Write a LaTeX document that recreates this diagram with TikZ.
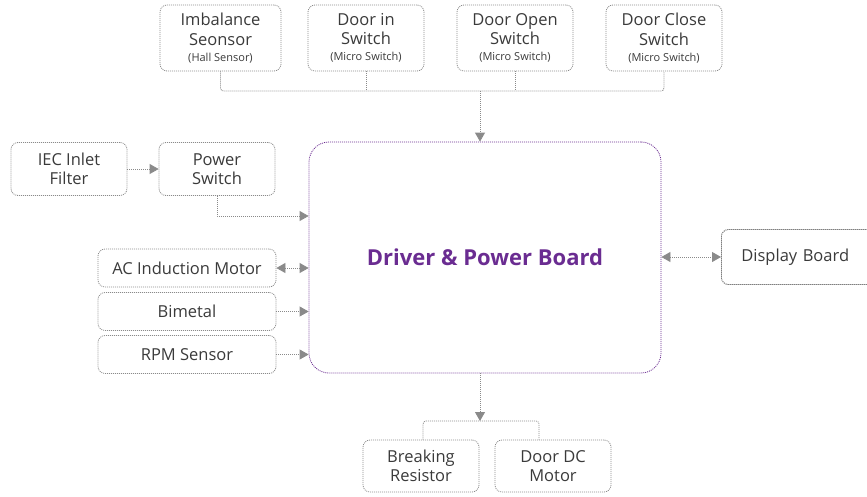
\documentclass[tikz,border=0pt]{standalone}
\usepackage{fontspec}
\setmainfont{Open Sans}
\usetikzlibrary{arrows.meta}
\definecolor{ln}{HTML}{8A8A8A}
\definecolor{txt}{HTML}{3A3A3A}
\definecolor{pur}{HTML}{6A2C91}
\newcommand{\smalltxt}[1]{{\fontsize{11}{13}\selectfont #1}}
\begin{document}
\begin{tikzpicture}[x=1pt,y=-1pt,
  box/.style={draw=ln, dash pattern=on 1pt off 1pt, line width=0.8pt, rounded corners=7pt,
    text=txt, align=center, inner sep=0pt, font=\fontsize{16.5}{19.5}\selectfont},
  topbox/.style={box, minimum width=116pt, minimum height=66pt},
  midbox/.style={box, minimum width=116pt, minimum height=53pt},
  sidebox/.style={box, minimum width=178pt, minimum height=38pt},
  botbox/.style={box, minimum width=116pt, minimum height=52pt},
  wire/.style={draw=ln, dash pattern=on 1pt off 1pt, line width=0.8pt},
  tip/.style={-{Triangle[length=9pt,width=10pt,fill=ln,color=ln]}},
  dtip/.style={{Triangle[length=9pt,width=10pt,fill=ln,color=ln]}-{Triangle[length=9pt,width=10pt,fill=ln,color=ln]}}]
\useasboundingbox (0,0) rectangle (867,496);
\clip (0,0) rectangle (867,496);
% top row
\node[topbox, minimum width=121pt] (imb) at (220.5,38) {Imbalance\\Seonsor\\[-3.5pt]\smalltxt{(Hall Sensor)}};
\node[topbox] (din) at (366,38) {Door in\\Switch\\[-3.5pt]\smalltxt{(Micro Switch)}};
\node[topbox] (dop) at (515,38) {Door Open\\Switch\\[-3.5pt]\smalltxt{(Micro Switch)}};
\node[topbox] (dcl) at (664,38) {Door Close\\Switch\\[-3.5pt]\smalltxt{(Micro Switch)}};
% main
\node[draw=pur, dash pattern=on 1pt off 1pt, line width=0.8pt, rounded corners=20pt,
  minimum width=352pt, minimum height=231pt, inner sep=0pt,
  text=pur, font=\fontsize{22}{26}\selectfont\bfseries] (main) at (485,257.5) {Driver \& Power Board};
% left
\node[midbox] (iec) at (69,169) {IEC Inlet\\Filter};
\node[midbox] (psw) at (217,169) {Power\\Switch};
\node[sidebox] (ac) at (187,268) {AC Induction Motor};
\node[sidebox] (bim) at (187,311.5) {Bimetal};
\node[sidebox] (rpm) at (187,354.5) {RPM Sensor};
% right
\node[box, draw=txt, anchor=west, minimum height=55pt, text width=150pt, align=left,
  inner xsep=20pt] (disp) at (721,257) {Display Board};
% bottom
\node[botbox] (brk) at (421,466) {Breaking\\Resistor};
\node[botbox] (ddc) at (553,466) {Door DC\\Motor};
% coordinates
\coordinate (bus) at (480,91);
\coordinate (p216) at (0,216);
\coordinate (bl) at (423,421);
\coordinate (br) at (539,421);
\coordinate (bm) at (480,421);
% top connectors
\draw[wire, rounded corners=3pt] (imb.south) |- (bus) -| (dcl.south);
\draw[wire] (din.south) -- (din.south |- bus);
\draw[wire] (dop.south) -- (dop.south |- bus);
\draw[wire, tip] (bus) -- (bus |- main.north);
% left connectors
\draw[wire, tip] (iec.east) -- (psw.west);
\draw[wire, tip] (psw.south) |- (main.west |- p216);
\draw[wire, dtip] (ac.east) -- (ac.east -| main.west);
\draw[wire, tip] (bim.east) -- (bim.east -| main.west);
\draw[wire, tip] (rpm.east) -- (rpm.east -| main.west);
% right connector
\draw[wire, dtip] (main.east |- disp.west) -- (disp.west);
% bottom connectors
\draw[wire, tip] (bm |- main.south) -- (bm);
\draw[wire, rounded corners=3pt] (bl |- brk.north) -- (bl) -- (br) -- (br |- ddc.north);
\end{tikzpicture}
\end{document}
